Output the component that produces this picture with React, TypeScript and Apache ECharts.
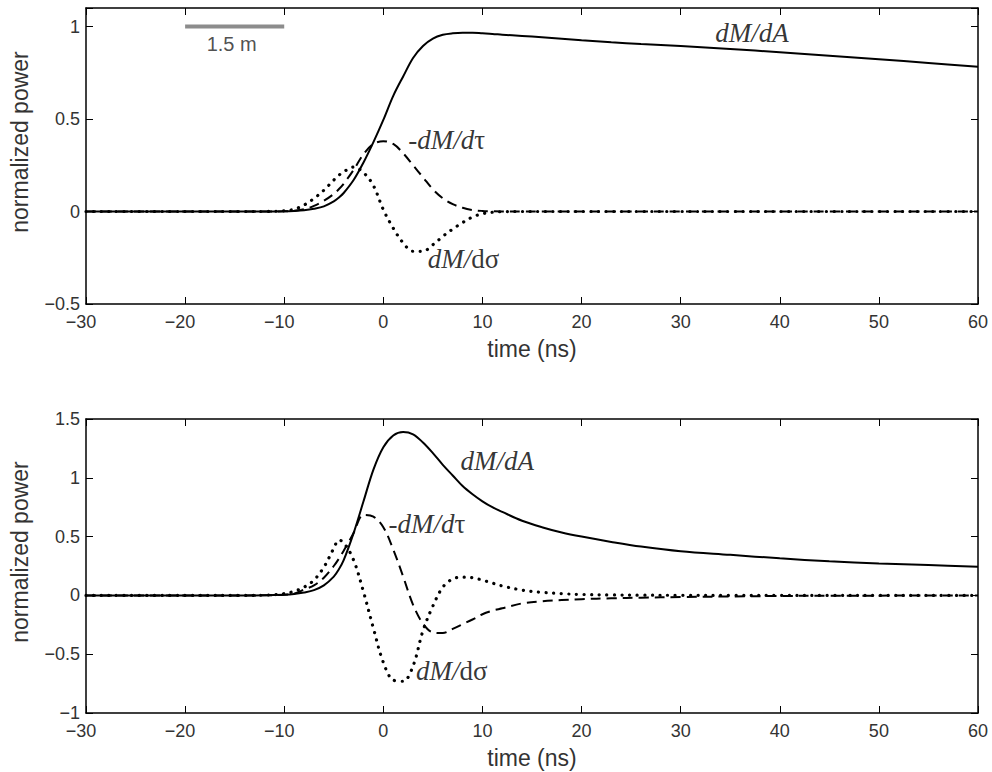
import React, { useEffect, useRef } from "react";
import * as echarts from "echarts";

// shared time axis (ns)
const time = [-30, -20, -14, -12, -10, -9, -8, -7, -6, -5, -4.5, -4, -3, -2, -1, 0, 1, 2, 3, 4, 5, 6, 7, 8, 9, 10, 11, 12, 14, 16, 18, 20, 23, 26, 30, 35, 40, 45, 50, 55, 60];

// upper panel
const topDA = [0, 0, 0, 0, 0.001, 0.003, 0.007, 0.015, 0.028, 0.055, 0.075, 0.1, 0.17, 0.265, 0.375, 0.495, 0.625, 0.73, 0.83, 0.895, 0.935, 0.955, 0.963, 0.966, 0.966, 0.963, 0.96, 0.956, 0.949, 0.942, 0.934, 0.926, 0.915, 0.905, 0.894, 0.878, 0.861, 0.842, 0.823, 0.803, 0.783];
const topDTau = [0, 0, 0, 0, 0.001, 0.004, 0.012, 0.03, 0.058, 0.095, 0.12, 0.15, 0.225, 0.31, 0.365, 0.38, 0.365, 0.315, 0.25, 0.185, 0.12, 0.072, 0.04, 0.02, 0.008, 0.003, 0.001, 0, 0, 0, 0, 0, 0, 0, 0, 0, 0, 0, 0, 0, 0];
const topDSigma = [0, 0, 0, 0, 0.004, 0.012, 0.035, 0.07, 0.115, 0.17, 0.195, 0.215, 0.24, 0.21, 0.14, 0.01, -0.09, -0.17, -0.215, -0.215, -0.18, -0.135, -0.095, -0.06, -0.03, -0.012, -0.004, -0.001, 0, 0, 0, 0, 0, 0, 0, 0, 0, 0, 0, 0, 0];

// lower panel
const botDA = [0, 0, 0, 0.001, 0.006, 0.012, 0.025, 0.045, 0.085, 0.16, 0.22, 0.3, 0.53, 0.8, 1.07, 1.26, 1.36, 1.39, 1.37, 1.3, 1.21, 1.11, 1.02, 0.93, 0.86, 0.8, 0.75, 0.71, 0.635, 0.58, 0.535, 0.5, 0.455, 0.415, 0.375, 0.345, 0.315, 0.29, 0.272, 0.258, 0.243];
const botDTau = [0, 0, 0, 0.001, 0.006, 0.015, 0.05, 0.085, 0.15, 0.25, 0.31, 0.38, 0.53, 0.685, 0.67, 0.58, 0.39, 0.16, -0.08, -0.24, -0.315, -0.32, -0.285, -0.245, -0.205, -0.16, -0.13, -0.11, -0.068, -0.05, -0.04, -0.032, -0.025, -0.019, -0.014, -0.009, -0.005, -0.003, -0.002, -0.001, 0];
const botDSigma = [0, 0, 0, 0.002, 0.015, 0.035, 0.07, 0.13, 0.24, 0.4, 0.47, 0.45, 0.3, 0.03, -0.28, -0.57, -0.72, -0.73, -0.6, -0.3, -0.09, 0.07, 0.14, 0.155, 0.15, 0.13, 0.105, 0.08, 0.045, 0.026, 0.015, 0.008, 0.004, 0.002, 0.001, 0, 0, 0, 0, 0, 0];

// annotations [t, value, label]
const topLabels: [number, number, string][] = [
  [37.2, 0.966, "{it|dM/dA}"],
  [6.4, 0.384, "{it|-dM/d}{rm|τ}"],
  [8.1, -0.257, "{it|dM/}{rm|dσ}"],
];
const botLabels: [number, number, string][] = [
  [11.5, 1.147, "{it|dM/dA}"],
  [4.4, 0.603, "{it|-dM/d}{rm|τ}"],
  [6.9, -0.646, "{it|dM/}{rm|dσ}"],
];
const scaleBar = [[-20, 1], [-10, 1]];
const scaleBarLabel: [number, number, string][] = [[-15.3, 0.906, "1.5 m"]];

const xTicks = { min: -30, max: 60, interval: 10 };
const topY = { min: -0.5, max: 1.1, interval: 0.5 };
const botY = { min: -1, max: 1.5, interval: 0.5 };

const SANS = "'Liberation Sans', Arial, Helvetica, sans-serif";
const SERIF = "'Liberation Serif', 'Times New Roman', serif";

const fmtNum = (v: number) => String(v).replace("-", "\u2212");
const fmtX = (v: number) => (v < 0 ? `{neg|${fmtNum(v)}}` : `{pos|${fmtNum(v)}}`);
const fmtY = (v: number) => {
  const k = v / 0.5;
  if (Math.abs(k - Math.round(k)) > 1e-6) return "";
  return fmtNum(Math.round(k) * 0.5);
};

export default function App() {
  const ref = useRef<HTMLDivElement>(null);
  useEffect(() => {
    if (!ref.current) return;
    const chart = echarts.init(ref.current, undefined, { renderer: "svg" });
    const axisLine = { show: true, onZero: false, lineStyle: { color: "#000", width: 1.5 } };
    const tick = { show: true, inside: true, length: 7, lineStyle: { color: "#000", width: 1 } };
    const labelStyle = { fontFamily: SANS, fontSize: 18, color: "#333" };
    const nameStyle = { fontFamily: SANS, fontSize: 23, color: "#333" };

    const mkX = (grid: number, main: boolean) => ({
      type: "value",
      gridIndex: grid,
      position: main ? "bottom" : "top",
      ...xTicks,
      axisLine,
      axisTick: tick,
      splitLine: { show: false },
      axisLabel: main
        ? {
            ...labelStyle,
            margin: 9,
            formatter: fmtX,
            rich: {
              neg: { ...labelStyle, padding: [0, 10, 0, 0] },
              pos: { ...labelStyle },
            },
          }
        : { show: false },
      name: main ? "time (ns)" : "",
      nameLocation: "middle",
      nameGap: 33,
      nameTextStyle: nameStyle,
    });
    const mkY = (grid: number, main: boolean, r: any) => ({
      type: "value",
      gridIndex: grid,
      position: main ? "left" : "right",
      ...r,
      axisLine,
      axisTick: tick,
      splitLine: { show: false },
      axisLabel: main ? { ...labelStyle, margin: 6, formatter: fmtY } : { show: false },
      name: main ? "normalized power" : "",
      nameLocation: "middle",
      nameGap: 55,
      nameTextStyle: { ...nameStyle, padding: [0, 0, 0, 28] },
    });

    const pts = (vals: number[]) => time.map((t, i) => [t, vals[i]]);
    const curve = (vals: number[], xi: number, kind: string) => ({
      type: "line",
      xAxisIndex: xi,
      yAxisIndex: xi,
      data: pts(vals),
      showSymbol: false,
      symbol: "none",
      smooth: 0.35,
      silent: true,
      lineStyle:
        kind === "solid"
          ? { color: "#000", width: 2 }
          : kind === "dash"
          ? { color: "#000", width: 2, type: [10, 6] }
          : { color: "#000", width: 3.2, type: [0.1, 7.5], cap: "round" },
      z: kind === "dot" ? 4 : 3,
    });
    const rich = {
      it: { fontFamily: SERIF, fontStyle: "italic", fontSize: 27, color: "#000" },
      rm: { fontFamily: SERIF, fontSize: 27, color: "#000" },
    };
    const labels = (arr: [number, number, string][], xi: number, isRich: boolean) => ({
      type: "scatter",
      xAxisIndex: xi,
      yAxisIndex: xi,
      symbolSize: 0,
      silent: true,
      data: arr.map((d) => ({ value: [d[0], d[1]], name: d[2] })),
      label: {
        show: true,
        position: "inside",
        align: "center",
        verticalAlign: "middle",
        formatter: (p: any) => p.name,
        ...(isRich ? { rich } : { fontFamily: SANS, fontSize: 20, color: "#222" }),
      },
      z: 10,
    });

    chart.setOption({
      animation: false,
      backgroundColor: "#fff",
      grid: [
        { left: 86, right: 14, top: 8, height: 296 },
        { left: 86, right: 14, top: 419, height: 294 },
      ],
      xAxis: [mkX(0, true), mkX(1, true), mkX(0, false), mkX(1, false)],
      yAxis: [mkY(0, true, topY), mkY(1, true, botY), mkY(0, false, topY), mkY(1, false, botY)],
      series: [
        curve(topDA, 0, "solid"),
        curve(topDTau, 0, "dash"),
        curve(topDSigma, 0, "dot"),
        curve(botDA, 1, "solid"),
        curve(botDTau, 1, "dash"),
        curve(botDSigma, 1, "dot"),
        {
          type: "line",
          xAxisIndex: 0,
          yAxisIndex: 0,
          data: scaleBar,
          symbol: "none",
          silent: true,
          lineStyle: { color: "#8c8c8c", width: 4, cap: "butt" },
        },
        labels(scaleBarLabel, 0, false),
        labels(topLabels, 0, true),
        labels(botLabels, 1, true),
      ],
    });
    return () => chart.dispose();
  }, []);
  return (
    <div
      ref={ref}
      style={{ position: "absolute", left: 0, top: 0, width: 992, height: 772, background: "#fff" }}
    />
  );
}
